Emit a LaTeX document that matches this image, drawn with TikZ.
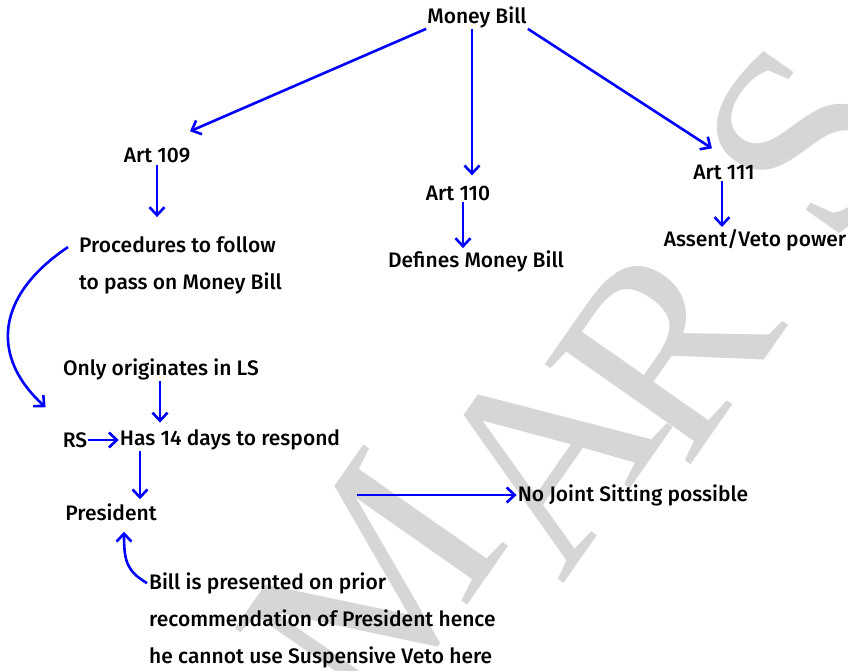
\documentclass[tikz,border=0pt]{standalone}
\usepackage{fontspec}
\setmainfont{Fira Sans}[UprightFont={* Medium}]
\newfontfamily\wmfont{Liberation Serif}
\usetikzlibrary{arrows.meta,calc}
\definecolor{edgeblue}{rgb}{0.0,0.0,1.0}
\definecolor{wmgray}{rgb}{0.84,0.84,0.84}
\tikzset{
  lbl/.style={inner sep=1bp, font=\fontsize{21bp}{37bp}\selectfont},
  edge/.style={draw=edgeblue, line width=2.6bp, ->},
  wmark/.style={inner sep=0pt, text=wmgray, rotate=55,
    font=\wmfont\fontsize{270bp}{270bp}\selectfont},
}
\begin{document}
\begin{tikzpicture}[>={Straight Barb[length=8bp,width=15bp]},line join=round,]
  \useasboundingbox (0bp,0bp) rectangle (848bp,671bp);
%%
  % Watermark
  \node[wmark] (wmM) at (372bp,84bp) {M};
  \node[wmark] (wmA) at (545bp,216bp) {A};
  \node[wmark] (wmR) at (665bp,323bp) {R};
  \node[wmark] (wmS) at (805bp,531bp) {S};
  % Node: Money Bill
  \node[lbl] (money) at (477bp,654bp) {Money Bill};
  % Node: Art 109
  \node[lbl] (art109) at (157bp,515bp) {Art 109};
  % Node: Art 110
  \node[lbl] (art110) at (458bp,478bp) {Art 110};
  % Node: Art 111
  \node[lbl] (art111) at (724bp,499bp) {Art 111};
  % Node: Procedures
  \node[lbl, anchor=west, align=left] (proc) at (78bp,406bp) {Procedures to follow\\to pass on Money Bill};
  % Node: Defines
  \node[lbl] (defines) at (476bp,410bp) {Defines Money Bill};
  % Node: Assent
  \node[lbl] (assent) at (755bp,431bp) {Assent/Veto power};
  % Node: Originates
  \node[lbl] (origin) at (161bp,302bp) {Only originates in LS};
  % Node: RS
  \node[lbl] (rs) at (75bp,231bp) {RS};
  % Node: Has 14 days
  \node[lbl] (has14) at (230bp,231bp) {Has 14 days to respond};
  % Node: President
  \node[lbl] (president) at (111bp,159bp) {President};
  % Node: No Joint Sitting
  \node[lbl] (nojoint) at (633bp,176bp) {No Joint Sitting possible};
  % Node: Bill presented
  \node[lbl, anchor=west, align=left] (bill) at (148bp,51bp) {Bill is presented on prior\\recommendation of President hence\\he cannot use Suspensive Veto here};
  \coordinate (jsfrom) at (357bp,176bp);
  \coordinate (d0) at ($(president.north)+(29bp,3bp)$);
%%
  % Edge: Money Bill -> Art 109
  \draw [edge] (money.south west) -- ($(art109.north)+(33bp,16bp)$);
  % Edge: Money Bill -> Art 110
  \draw [edge] ($(money.south)+(-5bp,0bp)$) coordinate (m0) -- ($(m0 |- art110.north)+(0bp,9bp)$);
  % Edge: Money Bill -> Art 111
  \draw [edge] (money.south east) -- ($(art111.north)+(-12bp,15bp)$);
  % Edge: Art 109 -> Procedures
  \draw [edge] (art109.south) -- ($(art109.south |- proc.north)+(0bp,18bp)$);
  % Edge: Art 110 -> Defines
  \draw [edge] ($(art110.south)+(5bp,0bp)$) coordinate (a0) -- ($(a0 |- defines.north)+(0bp,1bp)$);
  % Edge: Art 111 -> Assent
  \draw [edge] ($(art111.south)+(-2bp,0bp)$) coordinate (b0) -- ($(b0 |- assent.north)+(0bp,1bp)$);
  % Edge: Procedures -> RS
  \draw [edge] ($(proc.north west)+(-10bp,-12bp)$) .. controls +(-73bp,-49bp) and +(-55bp,50bp) .. ($(rs.north west)+(-16bp,24bp)$);
  % Edge: Originates -> Has 14 days
  \draw [edge] ($(origin.south)+(-1bp,0bp)$) coordinate (c0) -- ($(c0 |- has14.north)+(0bp,6bp)$);
  % Edge: RS -> Has 14 days
  \draw [edge] (rs) -- (has14);
  % Edge: Has 14 days -> President
  \draw [edge] (d0 |- has14.south) -- (d0);
  % Edge: -> No Joint Sitting
  \draw [edge] (jsfrom) -- (nojoint);
  % Edge: Bill presented -> President
  \draw [edge] ($(bill.north west)+(-1bp,-12bp)$) .. controls +(-20bp,12bp) and +(0bp,-30bp) .. ($(president.south)+(13bp,-10bp)$);
%
\end{tikzpicture}
\end{document}
